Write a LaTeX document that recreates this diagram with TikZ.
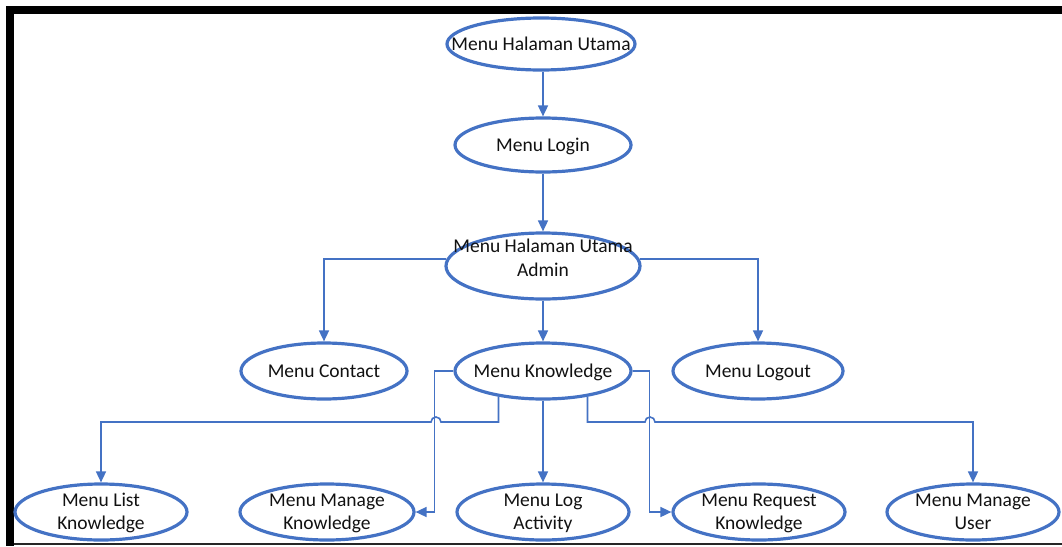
\documentclass[tikz,border=0pt]{standalone}
\usepackage{fontspec}
\setmainfont{Carlito}
\usetikzlibrary{arrows.meta,shapes.geometric}
\definecolor{ob}{HTML}{4472C4}
\definecolor{tx}{HTML}{111111}
\newcommand{\ztxt}[2][-6.5pt]{\makebox[0pt][c]{\raisebox{#1}[0pt][0pt]{\begin{tabular}{@{}c@{}}#2\end{tabular}}}}
\begin{document}
\begin{tikzpicture}[x=1pt,y=1pt,
  menu/.style={ellipse,draw=ob,line width=3.2pt,inner sep=0pt,text=tx,
    font=\fontsize{19.5}{23.5}\selectfont},
  conn/.style={draw=ob,line width=1.6pt,-{Triangle[length=11pt,width=10pt]}}]
\useasboundingbox (0,0) rectangle (1062,-546);
% frame
\fill[black] (6,-6) rectangle (1062,-14);
\fill[black] (6,-6) rectangle (14,-546);
\fill[black!85] (14,-542.5) rectangle (1062,-544.5);
% nodes
\node[menu,minimum width=188pt,minimum height=52pt] (top) at (541,-44) {\ztxt{Menu Halaman Utama}};
\node[menu,minimum width=176pt,minimum height=54pt] (login) at (543,-145) {\ztxt{Menu Login}};
\node[menu,minimum width=194pt,minimum height=66pt] (admin) at (543,-266) {\ztxt[1pt]{Menu Halaman Utama\\Admin}};
\node[menu,minimum width=166pt,minimum height=56pt] (contact) at (324,-371) {\ztxt{Menu Contact}};
\node[menu,minimum width=176pt,minimum height=56pt] (kn) at (543,-371) {\ztxt{Menu Knowledge}};
\node[menu,minimum width=170pt,minimum height=56pt] (logout) at (758,-371) {\ztxt{Menu Logout}};
\node[menu,minimum width=172pt,minimum height=56pt] (lk) at (101,-512) {\ztxt{Menu List\\Knowledge}};
\node[menu,minimum width=174pt,minimum height=56pt] (mk) at (327,-512) {\ztxt{Menu Manage\\Knowledge}};
\node[menu,minimum width=172pt,minimum height=56pt] (la) at (543,-512) {\ztxt{Menu Log\\Activity}};
\node[menu,minimum width=172pt,minimum height=56pt] (rk) at (759,-512) {\ztxt{Menu Request\\Knowledge}};
\node[menu,minimum width=172pt,minimum height=56pt] (mu) at (973,-512) {\ztxt{Menu Manage\\User}};
% connectors
\draw[conn] (login.north |- top.south) -- (login.north);
\draw[conn] (login.south) -- (admin.north);
\draw[conn] (admin.176) -| (contact.north);
\draw[conn] (admin.4) -| (logout.north);
\draw[conn] (admin.south) -- (kn.north);
\draw[conn] (kn.south) -- (la.north);
\draw[conn] (kn.west) -- ++(-19,0) |- (mk.east);
\draw[conn] (kn.east) -- ++(17,0) |- (rk.west);
\coordinate (hopy) at (0,-422);
\draw[conn] (kn.210) -- (kn.210 |- hopy) -- (441,-422) arc[start angle=0,end angle=180,radius=5] -| (lk.north);
\draw[conn] (kn.330) -- (kn.330 |- hopy) -- (645,-422) arc[start angle=180,end angle=0,radius=5] -| (mu.north);
\end{tikzpicture}
\end{document}
